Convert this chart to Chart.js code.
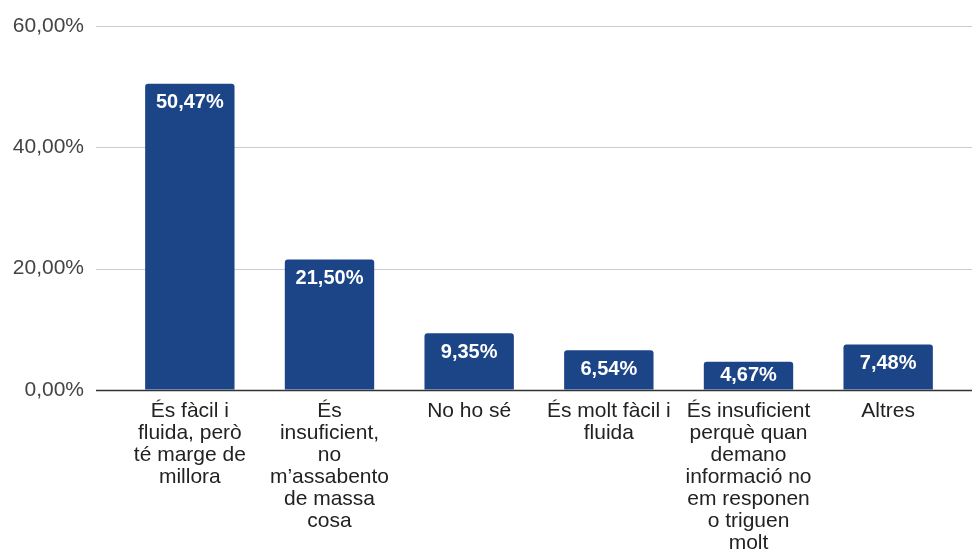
<!DOCTYPE html>
<html>
<head>
<meta charset="utf-8">
<script src="https://cdn.jsdelivr.net/npm/chart.js@4"></script>
<style>
  html, body { margin: 0; padding: 0; background: #fff; }
  #wrap { width: 972px; height: 549px; }
</style>
</head>
<body>
<div id="wrap"><canvas id="chart"></canvas></div>
<script>
// categories (already wrapped as in the picture)
let categories = [
    ['És fàcil i', 'fluida, però', 'té marge de', 'millora'],
    ['És', 'insuficient,', 'no', 'm’assabento', 'de massa', 'cosa'],
    ['No ho sé'],
    ['És molt fàcil i', 'fluida'],
    ['És insuficient', 'perquè quan', 'demano', 'informació no', 'em responen', 'o triguen', 'molt'],
    ['Altres']
];
let percentages = [50.47, 21.50, 9.35, 6.54, 4.67, 7.48];
let yTicks = [0, 20, 40, 60];

const fmt = (v) => v.toFixed(2).replace('.', ',') + '%';

// horizontal gridlines reach past the plot area like in the sheet chart
const gridPlugin = {
    id: 'wideGrid',
    beforeDatasetsDraw(chart) {
        let ctx = chart.ctx;
        let y = chart.scales.y;
        let left = chart.chartArea.left - 24;
        let right = chart.width;
        ctx.save();
        yTicks.forEach((t) => {
            let py = Math.round(y.getPixelForValue(t)) + 0.5;
            ctx.beginPath();
            ctx.strokeStyle = t == 0 ? '#333333' : '#cccccc';
            ctx.lineWidth = t == 0 ? 1.5 : 1;
            ctx.moveTo(left, py);
            ctx.lineTo(right, py);
            ctx.stroke();
        });
        ctx.restore();
    }
};

const valuePlugin = {
    id: 'barValues',
    afterDatasetsDraw(chart) {
        let ctx = chart.ctx;
        let meta = chart.getDatasetMeta(0);
        ctx.save();
        ctx.fillStyle = '#ffffff';
        ctx.font = 'bold 20px "Liberation Sans", Arial, sans-serif';
        ctx.textAlign = 'center';
        ctx.textBaseline = 'middle';
        meta.data.forEach((bar, i) => {
            let ty = Math.min(bar.y + 19, (bar.y + bar.base) / 2);
            ctx.fillText(fmt(percentages[i]), bar.x, ty);
        });
        ctx.restore();
    }
};

new Chart(document.getElementById('chart').getContext('2d'), {
    type: 'bar',
    data: {
        labels: categories,
        datasets: [{
            data: percentages,
            backgroundColor: '#1c4587',
            borderRadius: 3,
            barPercentage: 0.64,
            categoryPercentage: 1
        }]
    },
    options: {
        responsive: true,
        maintainAspectRatio: false,
        animation: false,
        layout: { padding: { top: 26, right: 14, left: 0, bottom: 0 } },
        plugins: {
            legend: { display: false },
            tooltip: { enabled: false }
        },
        scales: {
            x: {
                grid: { display: false, drawTicks: false },
                border: { display: false },
                ticks: {
                    autoSkip: false,
                    maxRotation: 0,
                    padding: 10,
                    color: '#222222',
                    font: { family: '"Liberation Sans", Arial, sans-serif', size: 21, lineHeight: 1.05 }
                },
                afterFit(scale) { scale.height = 159; }
            },
            y: {
                min: 0,
                max: 60,
                afterBuildTicks(scale) { scale.ticks = yTicks.map((v) => ({ value: v })); },
                grid: { display: true, drawOnChartArea: false, drawTicks: true, tickLength: 32, color: 'rgba(0,0,0,0)' },
                border: { display: false },
                ticks: {
                    padding: 4,
                    color: '#444444',
                    font: { family: '"Liberation Sans", Arial, sans-serif', size: 21 },
                    callback: (v) => fmt(v)
                },
                afterFit(scale) { scale.width = 120; }
            }
        }
    },
    plugins: [gridPlugin, valuePlugin]
});
</script>
</body>
</html>
